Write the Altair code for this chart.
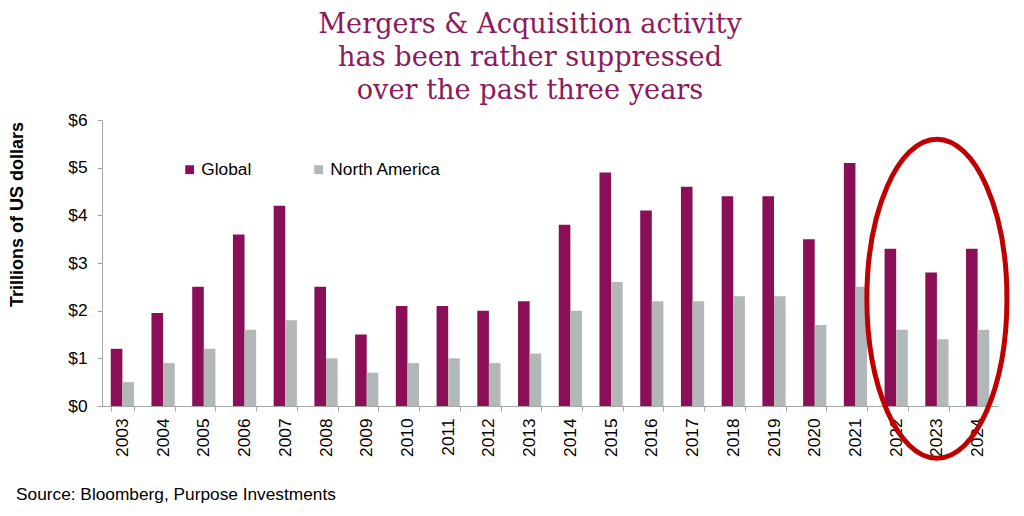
import altair as alt
import pandas as pd

years = ["2003", "2004", "2005", "2006", "2007", "2008", "2009", "2010", "2011",
         "2012", "2013", "2014", "2015", "2016", "2017", "2018", "2019", "2020",
         "2021", "2022", "2023", "2024"]
global_vals = [1.2, 1.95, 2.5, 3.6, 4.2, 2.5, 1.5, 2.1, 2.1, 2.0, 2.2, 3.8, 4.9,
               4.1, 4.6, 4.4, 4.4, 3.5, 5.1, 3.3, 2.8, 3.3]
na_vals = [0.5, 0.9, 1.2, 1.6, 1.8, 1.0, 0.7, 0.9, 1.0, 0.9, 1.1, 2.0, 2.6,
           2.2, 2.2, 2.3, 2.3, 1.7, 2.5, 1.6, 1.4, 1.6]
series_names = ["Global", "North America"]
series_colors = ["#8A0F57", "#B2B7B7"]
y_ticks = [0, 1, 2, 3, 4, 5, 6]
title_lines = ["Mergers & Acquisition activity",
               "has been rather suppressed",
               "over the past three years"]
y_title = "Trillions of US dollars"
source_text = "Source: Bloomberg, Purpose Investments"
highlight_year = ["2023"]
highlight_center = [2.25]

rows = []
for i, yr in enumerate(years):
    rows.append({"year": yr, "series": series_names[0], "value": global_vals[i]})
    rows.append({"year": yr, "series": series_names[1], "value": na_vals[i]})
df = pd.DataFrame(rows)

FONT = "Liberation Sans"
FS = 17.3
AXC = "#A6A6A6"

x_enc = alt.X(
    "year:N", sort=years,
    scale=alt.Scale(paddingInner=0.43, paddingOuter=0.215),
    axis=alt.Axis(title=None, labelAngle=270, labelFont=FONT, labelFontSize=FS,
                  labelColor="black", tickBand="extent", tickSize=5,
                  tickColor=AXC, domainColor=AXC, labelPadding=7, zindex=0),
)
y_enc = alt.Y(
    "value:Q",
    scale=alt.Scale(domain=[0, 6]),
    axis=alt.Axis(values=y_ticks, format="$.0f", grid=False, tickSize=5,
                  tickColor=AXC, domainColor=AXC, labelPadding=10,
                  labelFont=FONT, labelFontSize=FS, labelColor="black",
                  title=y_title, titleFont=FONT, titleFontSize=18,
                  titleFontWeight="bold", titleColor="black",
                  titleX=-76, titleY=94, titleAngle=270,
                  titleBaseline="bottom", titleAlign="center", zindex=0),
)

bars = alt.Chart(df).mark_bar().encode(
    x=x_enc,
    xOffset=alt.XOffset("series:N", sort=series_names),
    y=y_enc,
    color=alt.Color(
        "series:N",
        scale=alt.Scale(domain=series_names, range=series_colors),
        legend=alt.Legend(orient="none", legendX=79, legendY=41,
                          direction="horizontal", title=None,
                          symbolType="square", symbolSize=78,
                          symbolStrokeWidth=0, labelFont=FONT,
                          labelFontSize=FS, labelColor="black",
                          columnPadding=58, labelOffset=3, padding=0),
    ),
)

ellipse_path = ("M 0 -1 C 0.2425 -1 0.439 -0.5523 0.439 0 "
                "C 0.439 0.5523 0.2425 1 0 1 "
                "C -0.2425 1 -0.439 0.5523 -0.439 0 "
                "C -0.439 -0.5523 -0.2425 -1 0 -1 Z")
hl_df = pd.DataFrame({"year": highlight_year, "value": highlight_center})
ellipse = alt.Chart(hl_df).mark_point(
    shape=ellipse_path, size=101761, filled=False, color="#C00000",
    stroke="#C00000", strokeWidth=5, opacity=1,
).encode(x=alt.X("year:N", sort=years), y=alt.Y("value:Q"))

src_df = pd.DataFrame({"t": [source_text]})
source = alt.Chart(src_df).mark_text(
    align="left", baseline="alphabetic", font=FONT, fontSize=FS, color="black",
).encode(x=alt.value(-86), y=alt.value(380), text="t:N")

chart = alt.layer(bars, ellipse, source).properties(
    width=896, height=286,
    padding={"left": 94, "top": 112, "right": 18, "bottom": 102},
    autosize=alt.AutoSizeParams(type="none"),
    background="white",
    title=alt.TitleParams(text=title_lines, font="DejaVu Serif", fontSize=27.2,
                          fontWeight="normal", color="#8C1A5C", lineHeight=33,
                          anchor="middle", frame="group", dx=-20, offset=-21,
                          baseline="bottom"),
).configure_view(stroke=None)

chart.save("out.html", embed_options={"renderer": "svg", "actions": False})
